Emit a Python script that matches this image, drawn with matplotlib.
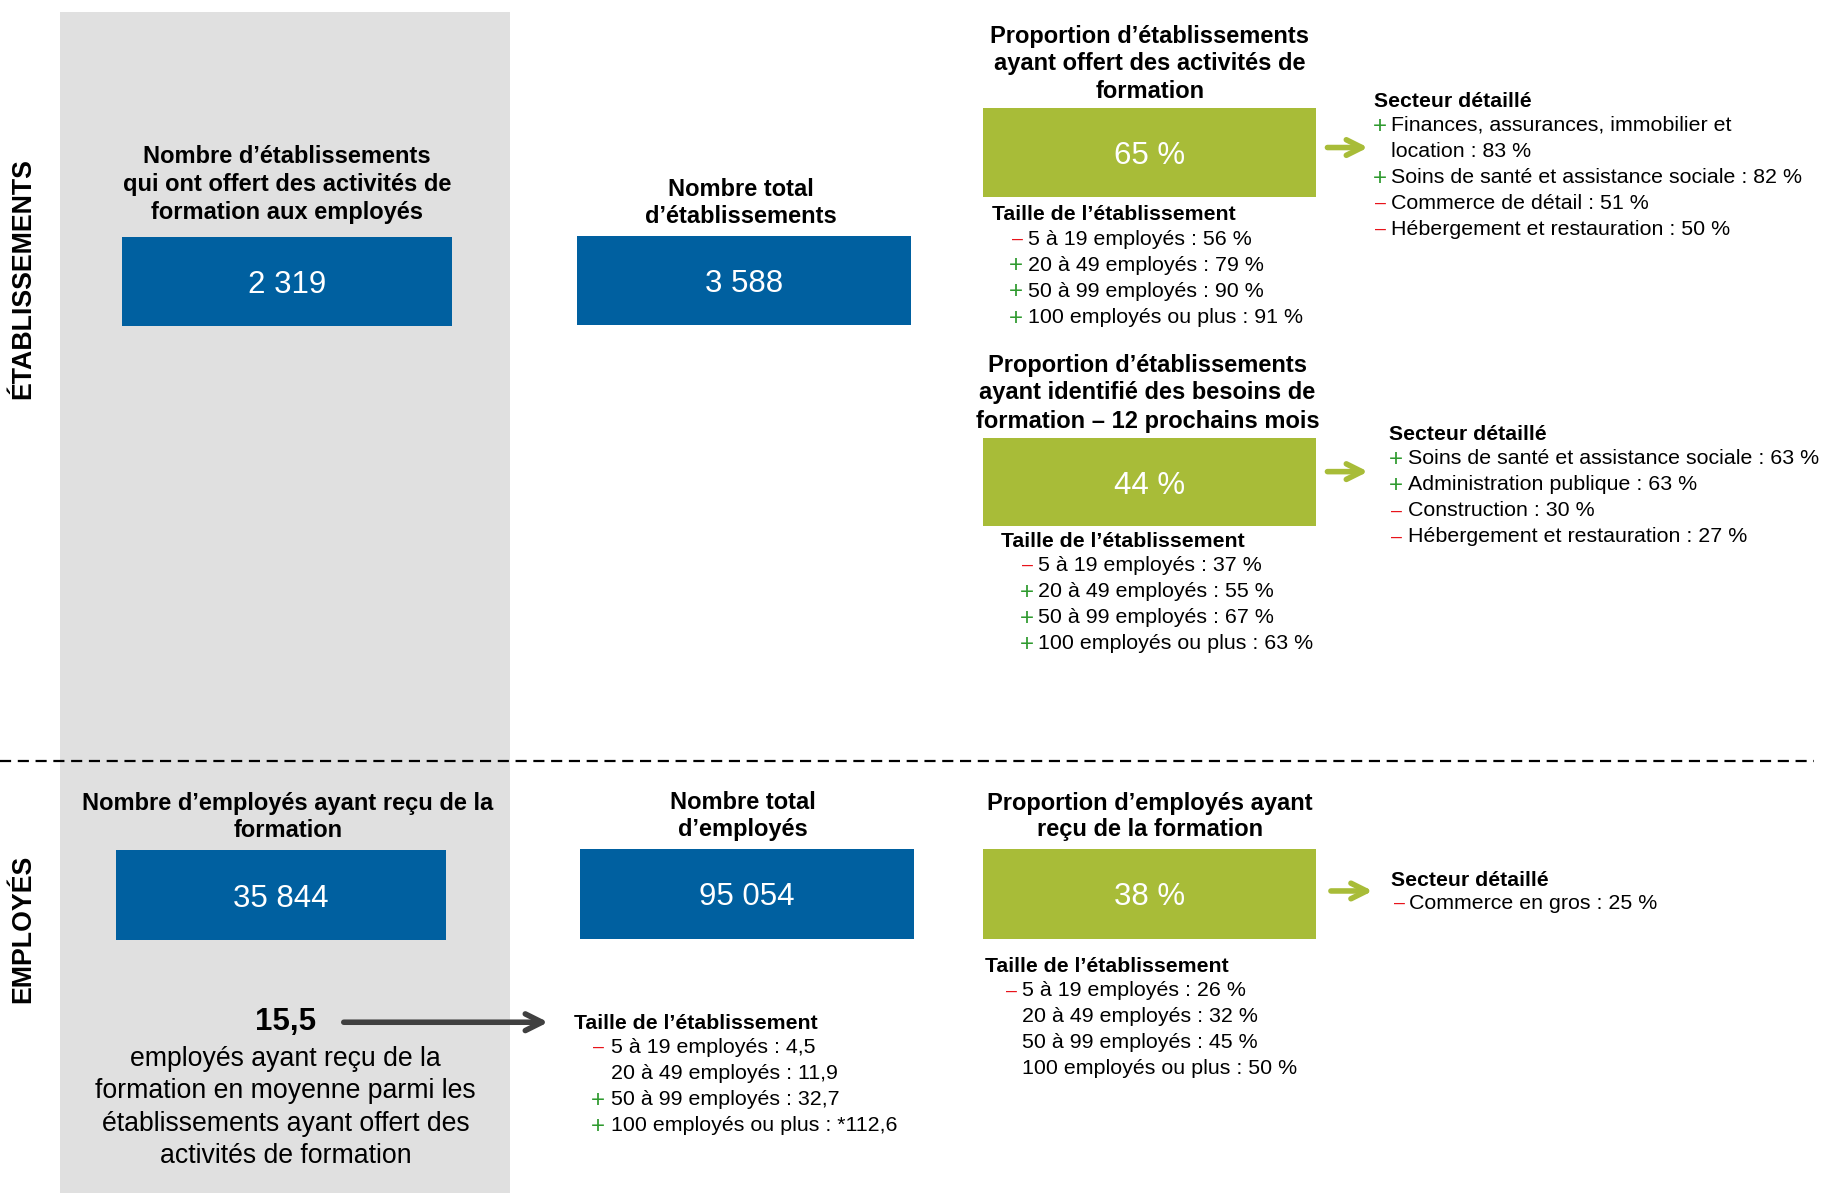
import matplotlib
matplotlib.use('Agg')
import matplotlib.pyplot as plt
from matplotlib.patches import Rectangle

plt.rcParams['font.family'] = ['Liberation Sans', 'DejaVu Sans']

# ---- data ----
section_labels = ['ÉTABLISSEMENTS', 'EMPLOYÉS']

count_titles = [
    ['Nombre d’établissements', 'qui ont offert des activités de', 'formation aux employés'],
    ['Nombre total', 'd’établissements'],
    ['Nombre d’employés ayant reçu de la', 'formation'],
    ['Nombre total', 'd’employés'],
]
count_values = ['2 319', '3 588', '35 844', '95 054']

prop_titles = [
    ['Proportion d’établissements', 'ayant offert des activités de', 'formation'],
    ['Proportion d’établissements', 'ayant identifié des besoins de', 'formation – 12 prochains mois'],
    ['Proportion d’employés ayant', 'reçu de la formation'],
]
prop_values = [65, 44, 38]

size_labels = ['5 à 19 employés', '20 à 49 employés', '50 à 99 employés', '100 employés ou plus']
size_offered = [56, 79, 90, 91]
size_offered_sign = ['-', '+', '+', '+']
size_needs = [37, 55, 67, 63]
size_needs_sign = ['-', '+', '+', '+']
size_emp = [26, 32, 45, 50]
size_emp_sign = ['-', '', '', '']
size_avg = ['4,5', '11,9', '32,7', '*112,6']
size_avg_sign = ['-', '', '+', '+']

avg_trained = '15,5'
avg_text = ['employés ayant reçu de la', 'formation en moyenne parmi les',
            'établissements ayant offert des', 'activités de formation']

sector_offered_names = ['Finances, assurances, immobilier et\nlocation',
                        'Soins de santé et assistance sociale',
                        'Commerce de détail', 'Hébergement et restauration']
sector_offered = [83, 82, 51, 50]
sector_offered_sign = ['+', '+', '-', '-']

sector_needs_names = ['Soins de santé et assistance sociale', 'Administration publique',
                      'Construction', 'Hébergement et restauration']
sector_needs = [63, 63, 30, 27]
sector_needs_sign = ['+', '+', '-', '-']

sector_emp_names = ['Commerce en gros']
sector_emp = [25]
sector_emp_sign = ['-']

# ---- style ----
BLUE = '#0060a0'
GREEN = '#a8bc38'
GRAY = '#e0e0e0'
PLUS = '#2f9a2f'
MINUS = '#e8141b'
DY = 22.4
YOFF = 2  # nudge text down a bit, va='center' sits slightly high

fig = plt.figure(figsize=(18.21, 11.93), dpi=100)
ax = fig.add_axes([0, 0, 1, 1])
ax.set_xlim(0, 1568)
ax.set_ylim(1027, 0)
ax.axis('off')


def pct(v):
    return '{} %'.format(v)


def title(x, ys, lines):
    for y, t in zip(ys, lines):
        ax.text(x, y + YOFF, t, ha='center', va='center', fontsize=17, fontweight='bold')


def box(x0, y0, x1, y1, color, label):
    ax.add_patch(Rectangle((x0, y0), x1 - x0, y1 - y0, color=color, lw=0))
    ax.text((x0 + x1) / 2, (y0 + y1) / 2 + 3, label, ha='center', va='center',
            fontsize=22.5, color='white')


def sign(x, y, s):
    if s == '+':
        ax.text(x - 1, y + 1, '+', ha='left', va='center', fontsize=17.5, color=PLUS)
    elif s == '-':
        ax.text(x + 1, y, '–', ha='left', va='center', fontsize=14, color=MINUS)


def block(head_xy, mx, tx, y0, names, vals, signs, fmt):
    ax.text(head_xy[0], head_xy[1] + YOFF, head_xy[2], ha='left', va='center',
            fontsize=15.3, fontweight='bold')
    y = y0 + YOFF
    for n, v, s in zip(names, vals, signs):
        sign(mx, y, s)
        lines = (n + ' : ' + fmt(v)).split('\n')
        for ln in lines:
            ax.text(tx, y, ln, ha='left', va='center', fontsize=15.4)
            y += DY


def arrow(x0, x1, y, color, lw, ms):
    ax.annotate('', xy=(x1, y), xytext=(x0, y),
                arrowprops=dict(arrowstyle='->', color=color, lw=lw,
                                mutation_scale=ms, shrinkA=0, shrinkB=0))


# gray panel
ax.add_patch(Rectangle((52, 10), 387, 1017, color=GRAY, lw=0))

# section labels
ax.text(20, 240, section_labels[0], rotation=90, ha='center', va='center',
        fontsize=19.3, fontweight='bold')
ax.text(20, 800, section_labels[1], rotation=90, ha='center', va='center',
        fontsize=19.3, fontweight='bold')

# divider
ax.plot([0, 1562], [655, 655], color='black', lw=1.6, ls=(0, (5, 3)))

# count boxes
count_boxes = [(105, 204, 389, 281), (497, 203, 784, 280), (100, 732, 384, 809), (499, 731, 787, 808)]
count_tx = [247, 638, 248, 640]
count_ty = [[133, 157, 181], [161, 184], [690, 713], [689, 712]]
for b, tx, ty, t, v in zip(count_boxes, count_tx, count_ty, count_titles, count_values):
    title(tx, ty, t)
    box(*b, BLUE, v)

# proportion boxes
prop_boxes = [(846, 93, 1133, 170), (846, 377, 1133, 453), (846, 731, 1133, 808)]
prop_tx = [990, 988, 990]
prop_ty = [[29, 53, 77], [313, 336, 361], [690, 712]]
for b, tx, ty, t, v in zip(prop_boxes, prop_tx, prop_ty, prop_titles, prop_values):
    title(tx, ty, t)
    box(*b, GREEN, pct(v))

# size breakdowns
head = 'Taille de l’établissement'
block((854, 183, head), 870, 885, 204, size_labels, size_offered, size_offered_sign, pct)
block((862, 464, head), 879, 894, 485, size_labels, size_needs, size_needs_sign, pct)
block((848, 830, head), 865, 880, 851, size_labels, size_emp, size_emp_sign, pct)
block((494, 879, head), 510, 526, 900, size_labels, size_avg, size_avg_sign, str)

# sector breakdowns
shead = 'Secteur détaillé'
block((1183, 85, shead), 1183, 1198, 106, sector_offered_names, sector_offered, sector_offered_sign, pct)
block((1196, 372, shead), 1197, 1212, 393, sector_needs_names, sector_needs, sector_needs_sign, pct)
block((1198, 756, shead), 1199, 1213, 776, sector_emp_names, sector_emp, sector_emp_sign, pct)

# arrows
arrow(1143, 1178, 127, GREEN, 4, 28)
arrow(1143, 1178, 406, GREEN, 4, 28)
arrow(1146, 1182, 767, GREEN, 4, 28)
arrow(296, 472, 880, '#404040', 4, 30)

# average trained employees
ax.text(246, 880, avg_trained, ha='center', va='center', fontsize=22.5, fontweight='bold')
for i, ln in enumerate(avg_text):
    ax.text(246, 912 + i * 27.6, ln, ha='center', va='center', fontsize=19.2)

fig.savefig('out.png', dpi=100)
